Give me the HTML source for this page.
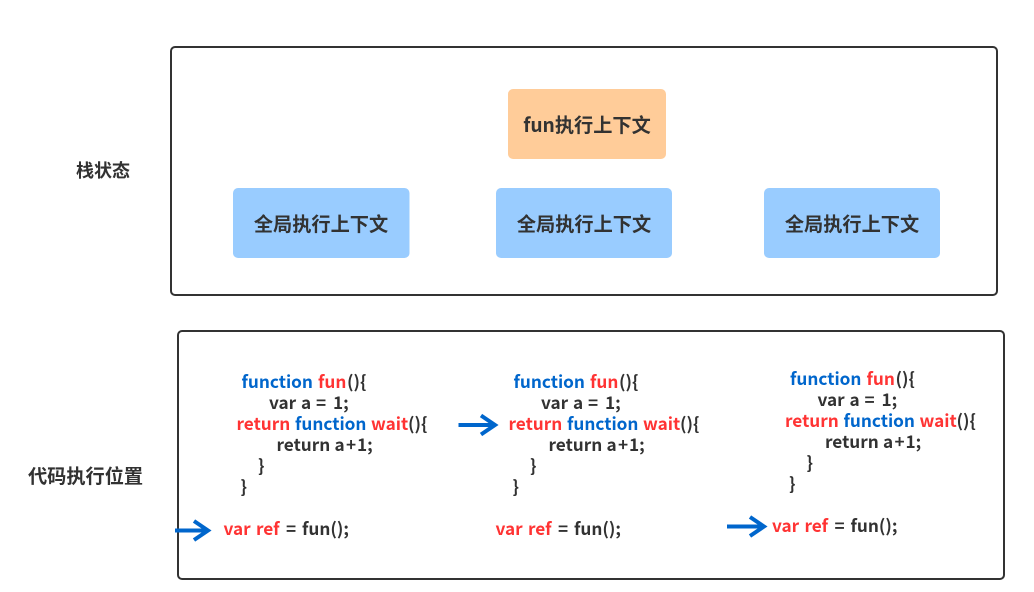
<!DOCTYPE html>
<html><head><meta charset="utf-8"><style>
html,body{margin:0;padding:0;background:#fff;width:1034px;height:592px;overflow:hidden}
svg{display:block}
text{font-family:"Noto Sans CJK SC","Liberation Sans",sans-serif;font-weight:700;fill:#323232}
.c text{font-size:17.2px}
.c .b{fill:#0066cc}.c .r{fill:#ff3333}
.h{font-size:19.2px;text-anchor:middle}
.ar{fill:none;stroke:#0066cc;stroke-width:4}
</style></head><body>
<svg width="1034" height="592" viewBox="0 0 1034 592" xmlns="http://www.w3.org/2000/svg">
<rect x="171" y="47" width="826" height="248" rx="4" fill="#fff" stroke="#323232" stroke-width="2"/>
<rect x="178" y="331" width="826" height="248" rx="4" fill="#fff" stroke="#323232" stroke-width="2"/>
<rect x="508" y="89" width="158" height="70" rx="5" fill="#ffcc99"/>
<rect x="233" y="188" width="176.500" height="70" rx="5" fill="#99ccff"/>
<rect x="496" y="188" width="176" height="70" rx="5" fill="#99ccff"/>
<rect x="764" y="188" width="176" height="70" rx="5" fill="#99ccff"/>
<text class="h" x="587" y="132">fun执行上下文</text>
<text class="h" x="321" y="231">全局执行上下文</text>
<text class="h" x="584" y="231">全局执行上下文</text>
<text class="h" x="852" y="231">全局执行上下文</text>
<text x="76" y="177" font-size="18">栈状态</text>
<text x="28" y="483" font-size="19.200">代码执行位置</text>
<defs>
<g id="code" class="c">
<text class="b" x="241.500" y="388">function</text><text class="r" x="318" y="388">fun</text><text x="347" y="388">(){</text>
<text x="269" y="409">var</text><text x="301" y="409">a</text><text x="316" y="409">=</text><text x="333" y="409">1;</text>
<text class="r" x="236.500" y="430">return</text><text class="b" x="295" y="430">function</text><text class="r" x="371" y="430">wait</text><text x="408" y="430">(){</text>
<text x="276.500" y="451">return</text><text x="334.500" y="451">a</text><text x="346" y="451">+</text><text x="357" y="451">1;</text>
<text x="258" y="472">}</text>
<text x="240.500" y="493">}</text>
<text class="r" x="223.500" y="535">var</text><text class="r" x="256" y="535">ref</text><text x="286" y="535">=</text><text x="302" y="535">fun();</text>
</g>
</defs>
<use href="#code"/>
<use href="#code" x="272" y="0"/>
<use href="#code" x="548.500" y="-3"/>
<path class="ar" d="M175 530.500H208M194 521L208 530.500L194 540"/>
<path class="ar" d="M458.500 425H495M481 415.500L495 425L481 434.500"/>
<path class="ar" d="M727 526.500H764M750 517L764 526.500L750 536"/>
</svg>
</body></html>
